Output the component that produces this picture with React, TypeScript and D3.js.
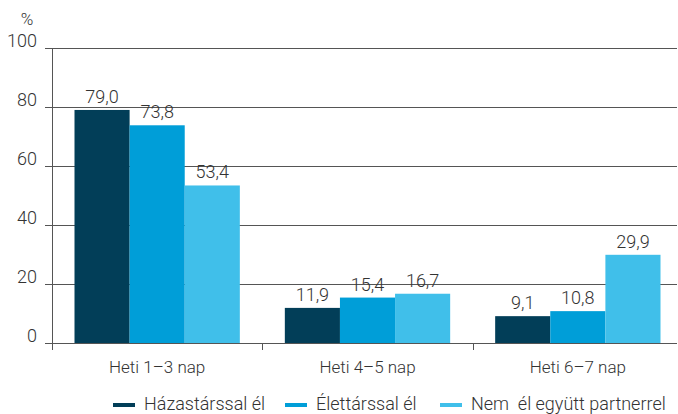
import React from "react";
import * as d3 from "d3";

const categories = ["Heti 1–3 nap", "Heti 4–5 nap", "Heti 6–7 nap"];
const seriesNames = ["Házastárssal él", "Élettárssal él", "Nem  él együtt partnerrel"];
const hazastarssal = [79.0, 11.9, 9.1];
const elettarssal = [73.8, 15.4, 10.8];
const nemEgyutt = [53.4, 16.7, 29.9];
const yTicks = [0, 20, 40, 60, 80, 100];

const colors = ["#023e58", "#009ed8", "#40bfea"];
const seriesValues = [hazastarssal, elettarssal, nemEgyutt];

const W = 678;
const H = 414;
const plotLeft = 52;
const plotRight = 683;
const gridRight = 677;
const plotTop = 48;
const plotBottom = 343;
const font = "Roboto, 'Open Sans', sans-serif";
const textColor = "#333";
const axisColor = "#555";
const legendX = [113, 285, 440];

export default function App() {
  const y = d3.scaleLinear().domain([0, 100]).range([plotBottom, plotTop]);
  const x0 = d3.scaleBand<string>().domain(categories).range([plotLeft, plotRight]);
  const bw = x0.bandwidth();
  const x1 = d3.scaleBand<string>().domain(seriesNames).range([22.5, bw - 22.5]);
  const fmt = (v: number) => v.toFixed(1).replace(".", ",");

  return (
    <div style={{ position: "absolute", left: 0, top: 0 }}>
      <svg width={W} height={H} style={{ display: "block", fontFamily: font }}>
        {yTicks.map((t) => (
          <g key={t}>
            <line x1={45} x2={gridRight} y1={Math.round(y(t)) + 0.5} y2={Math.round(y(t)) + 0.5} stroke={axisColor} strokeWidth={1} />
            <text x={37} y={y(t) - 1} textAnchor="end" fontSize={18} fontWeight={300} fill={textColor}>
              {t}
            </text>
          </g>
        ))}
        <text x={27} y={25} textAnchor="middle" fontSize={17} fontWeight={300} fill={textColor}>%</text>
        {categories.map((c, ci) => (
          <g key={c} transform={`translate(${x0(c)},0)`}>
            {seriesNames.map((s, si) => {
              const v = seriesValues[si][ci];
              return (
                <rect key={s} x={x1(s)} y={y(v)} width={x1.bandwidth()} height={plotBottom - y(v)} fill={colors[si]} />
              );
            })}
            {seriesNames.map((s, si) => {
              const v = seriesValues[si][ci];
              return (
                <text key={s + "l"} x={(x1(s) as number) + x1.bandwidth() / 2} y={y(v) - 7} textAnchor="middle" fontSize={18} fontWeight={300} fill={textColor}>
                  {fmt(v)}
                </text>
              );
            })}
            <text x={bw / 2} y={373} textAnchor="middle" fontSize={17} fontWeight={300} fill={textColor}>
              {c}
            </text>
          </g>
        ))}
        <line x1={plotLeft + 0.5} x2={plotLeft + 0.5} y1={plotTop} y2={350} stroke={axisColor} strokeWidth={1} />
        {categories.slice(1).map((c) => (
          <line key={c} x1={Math.round(x0(c) as number) + 0.5} x2={Math.round(x0(c) as number) + 0.5} y1={plotBottom} y2={350} stroke={axisColor} strokeWidth={1} />
        ))}
        {seriesNames.map((s, si) => (
          <g key={s} transform={`translate(${legendX[si]},0)`}>
            <line x1={0} x2={22} y1={405} y2={405} stroke={colors[si]} strokeWidth={4} />
            <text x={31} y={410} fontSize={18} fontWeight={300} fill={textColor} style={{ whiteSpace: "pre" }}>
              {s}
            </text>
          </g>
        ))}
      </svg>
    </div>
  );
}
